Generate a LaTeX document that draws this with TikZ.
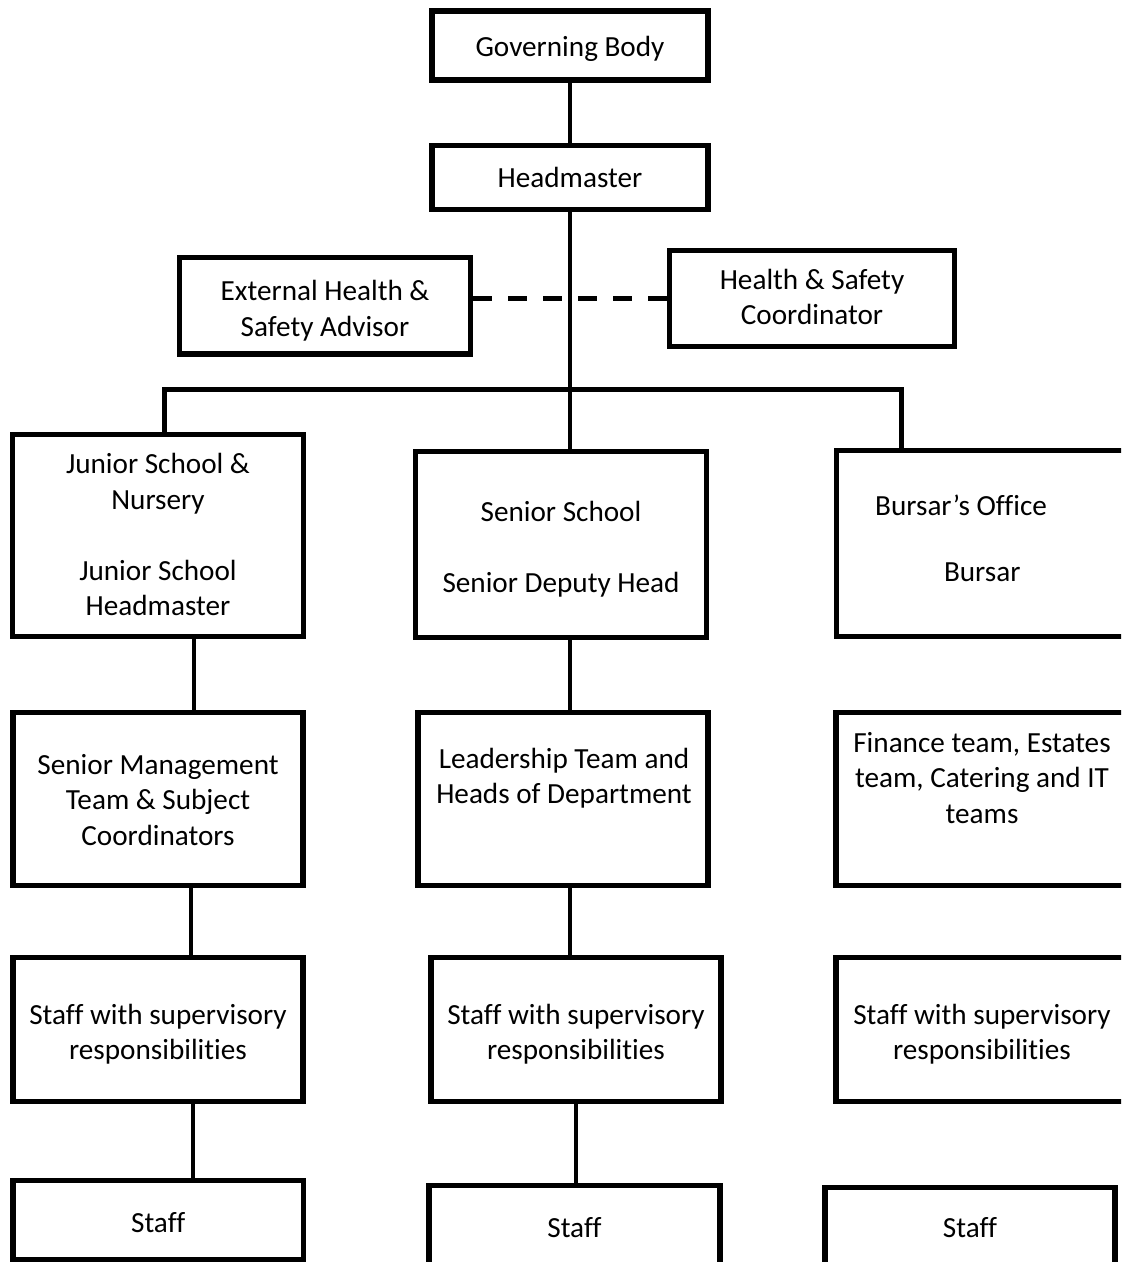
\documentclass[tikz,border=0pt]{standalone}
\usepackage{fontspec}
\setmainfont{Carlito}[Ligatures={TeX,NoCommon}]
\usetikzlibrary{positioning,calc}
\newcommand\chartfont{\fontsize{14.6}{17.75}\selectfont}
\tikzset{
  box/.style={draw,line width=2.6pt,inner sep=0pt},
  txt/.style={inner sep=0pt,align=center,font=\chartfont},
  link/.style={line width=2.2pt},
  dashlink/.style={line width=2.4pt,dash pattern=on 9.5pt off 8pt},
}

\begin{document}
\begin{tikzpicture}[x=0.5pt,y=-0.5pt]
\useasboundingbox (0,0) rectangle (1121,1262);
\clip (0,0) rectangle (1121,1262);
\node[box,minimum width=138pt,minimum height=34.5pt] (gov) at (570,45.5) {};
\node[txt,yshift=-1.75pt] (govtext) at (gov) {Governing Body};
\node[box,minimum width=138pt,minimum height=32pt] (head) at (570,177.5) {};
\node[txt] (headtext) at (head) {Headmaster};
\node[box,minimum width=145.5pt,minimum height=48.25pt] (ext) at (325,305.75) {};
\node[txt,yshift=-2.5pt] (exttext) at (ext) {External Health \&\\Safety Advisor};
\node[box,minimum width=142.5pt,minimum height=48pt] (hsc) at (812,298.5) {};
\node[txt,yshift=0.75pt] (hsctext) at (hsc) {Health \& Safety\\Coordinator};
\coordinate (busL) at (164.5,389.5);
\coordinate (busR) at (901.5,389.5);
\node[box,minimum width=145.5pt,minimum height=101pt] (jun) at (158,535.5) {};
\node[txt,yshift=0.5pt] (juntext) at (jun) {Junior School \&\\Nursery\\[17.75pt]Junior School\\Headmaster};
\node[box,minimum width=145.5pt,minimum height=93pt] (sen) at (561,544.5) {};
\node[txt,yshift=-2.5pt] (sentext) at (sen) {Senior School\\[17.75pt]Senior Deputy Head};
\node[box,minimum width=145.75pt,minimum height=93pt] (bur) at (982.25,543.5) {};
\node[txt,xshift=-10.6pt,yshift=19.25pt] (burhead) at (bur) {Bursar’s Office};
\node[txt,yshift=-14.25pt] (burname) at (bur) {Bursar};
\node[box,minimum width=145pt,minimum height=86.5pt] (smt) at (158,799) {};
\node[txt,yshift=-0.5pt] (smttext) at (smt) {Senior Management\\Team \& Subject\\Coordinators};
\node[box,minimum width=145pt,minimum height=86.5pt] (lead) at (563,799) {};
\node[txt,xshift=0.5pt,yshift=10.5pt] (leadtext) at (lead) {Leadership Team and\\Heads of Department};
\node[box,minimum width=146pt,minimum height=86.5pt] (fin) at (982,799) {};
\node[txt,yshift=10.5pt] (fintext) at (fin) {Finance team, Estates\\team, Catering and IT\\teams};
\node[box,minimum width=145pt,minimum height=72pt] (sup1) at (158,1029.5) {};
\node[txt,yshift=-2.25pt] (sup1text) at (sup1) {Staff with supervisory\\responsibilities};
\node[box,minimum width=145pt,minimum height=72pt] (sup2) at (576,1029.5) {};
\node[txt,yshift=-2.25pt] (sup2text) at (sup2) {Staff with supervisory\\responsibilities};
\node[box,minimum width=146pt,minimum height=72pt] (sup3) at (982,1029.5) {};
\node[txt,yshift=-2.25pt] (sup3text) at (sup3) {Staff with supervisory\\responsibilities};
\node[box,minimum width=145.25pt,minimum height=39.5pt] (staff1) at (158.25,1220) {};
\node[txt,yshift=-1.5pt] (staff1text) at (staff1) {Staff};
\node[box,minimum width=145.5pt,minimum height=42.5pt] (staff2) at (574.5,1228) {};
\node[txt] (staff2text) at (staff2) {Staff};
\node[box,minimum width=145pt,minimum height=42.5pt] (staff3) at (970,1230) {};
\node[txt,yshift=1pt] (staff3text) at (staff3) {Staff};
\draw[link] (gov) -- (head);
\draw[link] (head.south) -- (head.south |- sen.north);
\draw[dashlink] (hsc.west -| ext.east) -- (hsc.west);
\draw[link] (jun.north -| busL) -- (busL) -- (busR) -- (busR |- bur.north);
\draw[link] ([xshift=18pt]jun.south) -- ([xshift=18pt]jun.south |- smt.north);
\draw[link] (head.south |- sen.south) -- (head.south |- lead.north);
\draw[link] ([xshift=16.5pt]smt.south) -- ([xshift=16.5pt]smt.south |- sup1.north);
\draw[link] (head.south |- lead.south) -- (head.south |- sup2.north);
\draw[link] ([xshift=17.5pt]sup1.south) -- ([xshift=17.5pt]sup1.south |- staff1.north);
\draw[link] (sup2.south) -- (sup2.south |- staff2.north);
\end{tikzpicture}
\end{document}
